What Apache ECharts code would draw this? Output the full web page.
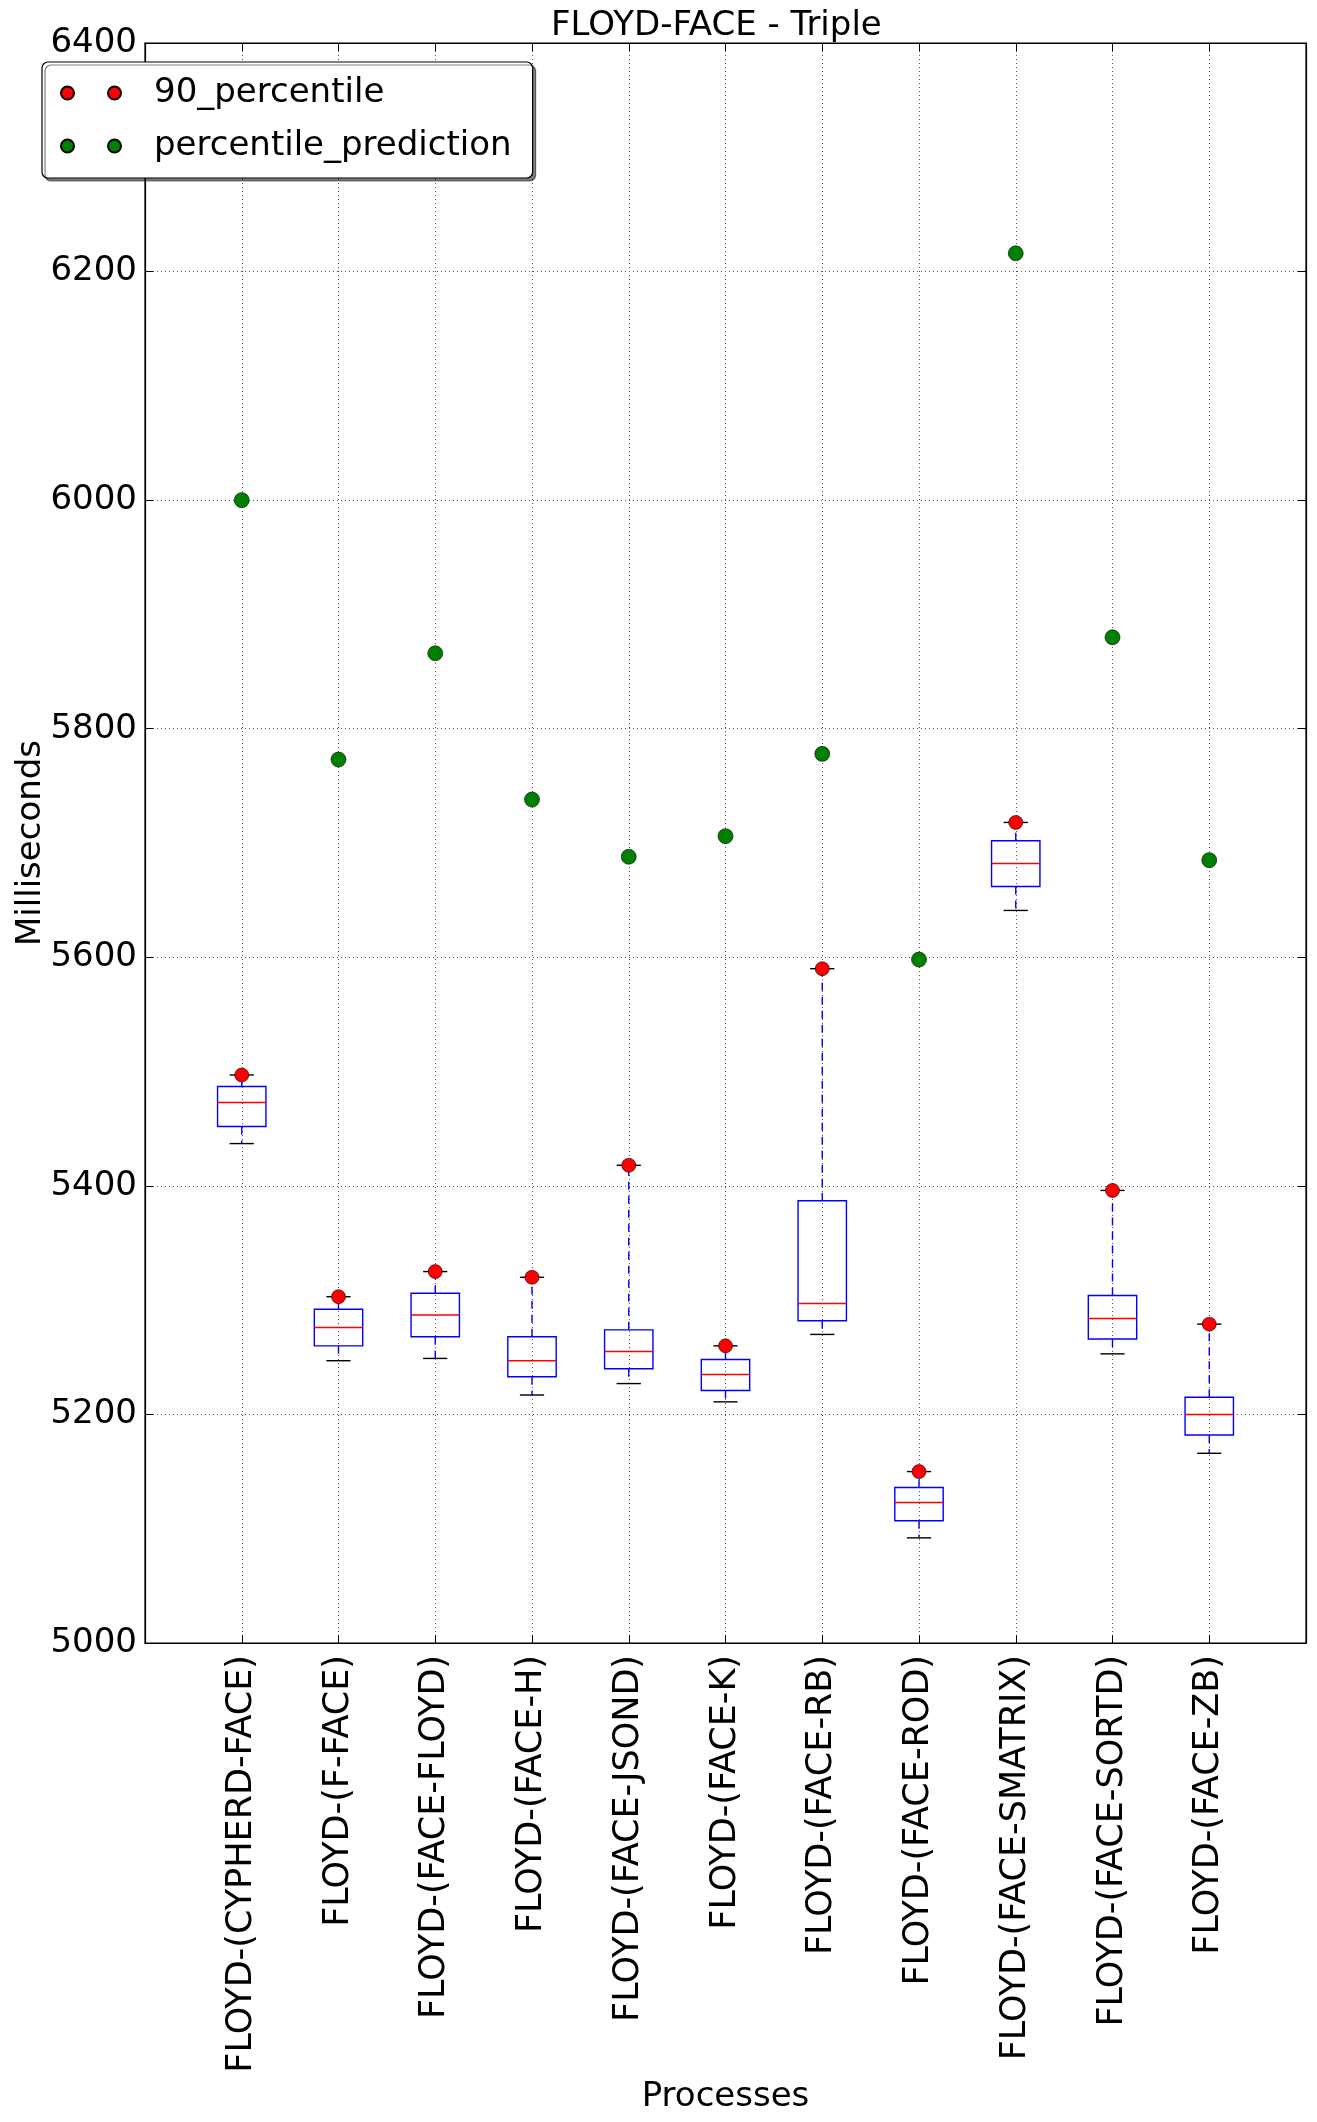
<!DOCTYPE html>
<html>
<head>
<meta charset="utf-8">
<script src="https://cdn.jsdelivr.net/npm/echarts@6/dist/echarts.min.js"></script>
<style>
  html, body { margin: 0; padding: 0; background: #fff; }
  #main { width: 1317px; height: 2122px; }
</style>
</head>
<body>
<div id="main"></div>
<script>
const categories = [
  "FLOYD-(CYPHERD-FACE)", "FLOYD-(F-FACE)", "FLOYD-(FACE-FLOYD)", "FLOYD-(FACE-H)",
  "FLOYD-(FACE-JSOND)", "FLOYD-(FACE-K)", "FLOYD-(FACE-RB)", "FLOYD-(FACE-ROD)",
  "FLOYD-(FACE-SMATRIX)", "FLOYD-(FACE-SORTD)", "FLOYD-(FACE-ZB)"
];
const whiskerLow  = [5437, 5247, 5249, 5217, 5227, 5211, 5270, 5092, 5641, 5253, 5166];
const q1          = [5452, 5260, 5268, 5233, 5240, 5221, 5282, 5107, 5662, 5266, 5182];
const median      = [5473, 5276, 5287, 5247, 5255, 5235, 5297, 5123, 5682, 5284, 5200];
const q3          = [5487, 5292, 5306, 5268, 5274, 5248, 5387, 5136, 5702, 5304, 5215];
const whiskerHigh = [5497, 5303, 5325, 5320, 5418, 5260, 5590, 5150, 5718, 5396, 5279];
const pct90       = [5497, 5303, 5325, 5320, 5418, 5260, 5590, 5150, 5718, 5396, 5279];
const prediction  = [6000, 5773, 5866, 5738, 5688, 5706, 5778, 5598, 6216, 5880, 5685];
const yTicks = [5000, 5200, 5400, 5600, 5800, 6000, 6200, 6400];

const font = "DejaVu Sans";
const chart = echarts.init(document.getElementById("main"));

// box + whiskers drawn matplotlib-style (blue box, red median, dashed whiskers, black caps)
const boxData = categories.map((c, i) => [i + 1, whiskerLow[i], q1[i], median[i], q3[i], whiskerHigh[i]]);

function renderBox(params, api) {
  const x = api.value(0);
  const lo = api.coord([x, api.value(1)]);
  const b1 = api.coord([x, api.value(2)]);
  const md = api.coord([x, api.value(3)]);
  const b3 = api.coord([x, api.value(4)]);
  const hi = api.coord([x, api.value(5)]);
  const half = api.size([0.5, 0])[0] / 2;
  const cap = half / 2;
  const cx = lo[0];
  const blue = { stroke: "#0000ff", lineWidth: 1.4, fill: null };
  const dashed = { stroke: "#0000ff", lineWidth: 1.4, lineDash: [8, 6] };
  const black = { stroke: "#000", lineWidth: 1.4 };
  return {
    type: "group",
    children: [
      { type: "line", shape: { x1: cx, y1: b3[1], x2: cx, y2: hi[1] }, style: dashed },
      { type: "line", shape: { x1: cx, y1: b1[1], x2: cx, y2: lo[1] }, style: dashed },
      { type: "line", shape: { x1: cx - cap, y1: hi[1], x2: cx + cap, y2: hi[1] }, style: black },
      { type: "line", shape: { x1: cx - cap, y1: lo[1], x2: cx + cap, y2: lo[1] }, style: black },
      { type: "rect", shape: { x: cx - half, y: b3[1], width: half * 2, height: b1[1] - b3[1] }, style: blue },
      { type: "line", shape: { x1: cx - half, y1: md[1], x2: cx + half, y2: md[1] }, style: { stroke: "#ff0000", lineWidth: 1.4 } }
    ]
  };
}

const twoDots = "path://M0,6.5a6.5,6.5 0 1,0 13,0a6.5,6.5 0 1,0 -13,0M47,6.5a6.5,6.5 0 1,0 13,0a6.5,6.5 0 1,0 -13,0";

const option = {
  animation: false,
  backgroundColor: "#fff",
  textStyle: { fontFamily: font },
  title: {
    text: "FLOYD-FACE - Triple",
    left: 551,
    top: 9,
    padding: 0,
    textStyle: { fontFamily: font, fontSize: 34, fontWeight: "normal", color: "#000" }
  },
  legend: {
    orient: "vertical",
    left: 42,
    top: 62,
    padding: [11, 21, 12, 18],
    itemGap: 13,
    itemWidth: 60,
    itemHeight: 13,
    data: [
      { name: "90_percentile", icon: twoDots },
      { name: "percentile_prediction", icon: twoDots }
    ],
    textStyle: { fontFamily: font, fontSize: 34, color: "#000", lineHeight: 40, padding: [0, 0, 0, 28] },
    backgroundColor: "#fff",
    borderColor: "#000",
    borderWidth: 1.2,
    borderRadius: 6,
    shadowColor: "rgba(0,0,0,0.5)",
    shadowOffsetX: 3,
    shadowOffsetY: 3,
    shadowBlur: 0
  },
  grid: { left: 145, right: 11, top: 43, bottom: 479, containLabel: false,
    outerBoundsMode: "none",
    show: true, borderColor: "#000", borderWidth: 1.2 },
  xAxis: [
    {
      type: "value", min: 0, max: 12, interval: 1, position: "bottom",
      name: "Processes", nameLocation: "middle", nameGap: 437,
      nameTextStyle: { fontFamily: font, fontSize: 34, color: "#000" },
      axisLine: { onZero: false, lineStyle: { color: "#000", width: 1.2 } },
      axisTick: { inside: true, length: 8, lineStyle: { color: "#000" } },
      axisLabel: {
        rotate: 90, margin: 12, fontFamily: font, fontSize: 35, color: "#000",
        formatter: v => categories[v - 1] || ""
      },
      splitLine: { show: true, lineStyle: { color: "#555", type: [1, 3], width: 1 } }
    },
    {
      type: "value", min: 0, max: 12, interval: 1, position: "top",
      axisLine: { onZero: false, lineStyle: { color: "#000", width: 1.2 } },
      axisTick: { inside: true, length: 8, lineStyle: { color: "#000" } },
      axisLabel: { show: false }, splitLine: { show: false }
    }
  ],
  yAxis: [
    {
      type: "value", min: yTicks[0], max: yTicks[yTicks.length - 1], interval: 200, position: "left",
      name: "Milliseconds", nameLocation: "middle", nameGap: 97, nameMoveOverlap: false,
      nameTextStyle: { fontFamily: font, fontSize: 34, color: "#000" },
      axisLine: { onZero: false, lineStyle: { color: "#000", width: 1.2 } },
      axisTick: { inside: true, length: 8, lineStyle: { color: "#000" } },
      axisLabel: { margin: 8, fontFamily: font, fontSize: 34, color: "#000", formatter: v => String(v) },
      splitLine: { show: true, lineStyle: { color: "#555", type: [1, 3], width: 1 } }
    },
    {
      type: "value", min: yTicks[0], max: yTicks[yTicks.length - 1], interval: 200, position: "right",
      axisLine: { onZero: false, lineStyle: { color: "#000", width: 1.2 } },
      axisTick: { inside: true, length: 8, lineStyle: { color: "#000" } },
      axisLabel: { show: false }, splitLine: { show: false }
    }
  ],
  series: [
    {
      name: "box",
      type: "custom",
      renderItem: renderBox,
      data: boxData,
      encode: { x: 0, y: [1, 2, 3, 4, 5] },
      z: 2
    },
    {
      name: "90_percentile",
      type: "scatter",
      data: pct90.map((v, i) => [i + 1, v]),
      symbolSize: 14,
      itemStyle: { color: "#ff0000", borderColor: "#000", borderWidth: 0.6, opacity: 1 },
      z: 4
    },
    {
      name: "percentile_prediction",
      type: "scatter",
      data: prediction.map((v, i) => [i + 1, v]),
      symbolSize: 15,
      itemStyle: { color: "#008000", borderColor: "#000", borderWidth: 0.6, opacity: 1 },
      z: 4
    }
  ]
};

chart.setOption(option);
</script>
</body>
</html>
